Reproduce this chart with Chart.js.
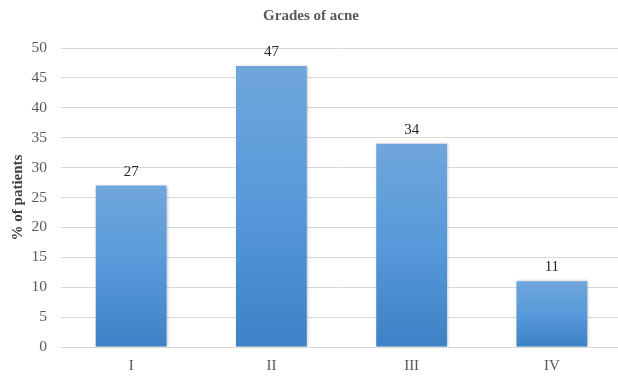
<!DOCTYPE html>
<html>
<head>
<meta charset="utf-8">
<script src="https://cdn.jsdelivr.net/npm/chart.js@4/dist/chart.umd.min.js"></script>
<style>
  html, body { margin: 0; padding: 0; background: #ffffff; overflow: hidden; }
  #wrap { width: 618px; height: 380px; overflow: hidden; }
  #chart { display: block; }
</style>
</head>
<body>
<div id="wrap"><canvas id="chart" width="622" height="380"></canvas></div>
<script>
// Acne grade categories and share of patients (%)
const grades = ['I', 'II', 'III', 'IV'];
const patientShare = [27, 47, 34, 11];
const yTicks = [0, 5, 10, 15, 20, 25, 30, 35, 40, 45, 50];
const chartTitle = 'Grades of acne';
const yTitle = '% of patients';

const serif = '"Liberation Serif", "Times New Roman", serif';

// Vertical gradient for each bar, from its top down to the baseline
function barGradient(context) {
  const chart = context.chart;
  if (!chart.chartArea) return '#5b9bd5';
  const y = chart.scales.y;
  const top = y.getPixelForValue(context.raw);
  const base = y.getPixelForValue(0);
  const g = chart.ctx.createLinearGradient(0, top, 0, base);
  g.addColorStop(0, '#6fa6dc');
  g.addColorStop(0.5, '#5799da');
  g.addColorStop(1, '#3d82c6');
  return g;
}

// Soft shadow behind the bars
const barShadow = {
  id: 'barShadow',
  beforeDatasetsDraw(chart) {
    const ctx = chart.ctx;
    ctx.save();
    ctx.shadowColor = 'rgba(0,0,0,0.25)';
    ctx.shadowBlur = 3;
    ctx.shadowOffsetX = 1;
    ctx.shadowOffsetY = 0;
  },
  afterDatasetsDraw(chart) {
    chart.ctx.restore();
  }
};

// Value labels above each bar, plus chart and axis titles
const annotations = {
  id: 'annotations',
  afterDatasetsDraw(chart) {
    const ctx = chart.ctx;
    const meta = chart.getDatasetMeta(0);
    ctx.save();
    ctx.font = '15px ' + serif;
    ctx.fillStyle = '#262626';
    ctx.textAlign = 'center';
    ctx.textBaseline = 'alphabetic';
    meta.data.forEach((bar, i) => {
      ctx.fillText(String(chart.data.datasets[0].data[i]), bar.x, bar.y - 10);
    });

    // chart title
    ctx.font = 'bold 15px ' + serif;
    ctx.fillStyle = '#595959';
    ctx.textBaseline = 'middle';
    ctx.fillText(chartTitle, 311, 16);

    // y axis title
    ctx.translate(18, (chart.chartArea.top + chart.chartArea.bottom) / 2);
    ctx.rotate(-Math.PI / 2);
    ctx.fillStyle = '#404040';
    ctx.fillText(yTitle, 0, 0);
    ctx.restore();
  }
};

new Chart(document.getElementById('chart'), {
  type: 'bar',
  data: {
    labels: grades,
    datasets: [{
      data: patientShare,
      backgroundColor: barGradient,
      borderWidth: 0,
      categoryPercentage: 1.0,
      barPercentage: 0.505
    }]
  },
  options: {
    responsive: false,
    animation: false,
    devicePixelRatio: 1,
    layout: { padding: { left: 0, right: 0, top: 48, bottom: 0 } },
    plugins: {
      legend: { display: false },
      tooltip: { enabled: false },
      title: { display: false }
    },
    scales: {
      x: {
        afterFit(axis) { axis.height = 33; },
        grid: { display: false, drawTicks: false },
        border: { display: true, color: '#d9d9d9', width: 1 },
        ticks: {
          color: '#595959',
          font: { family: serif, size: 15 },
          padding: 10
        }
      },
      y: {
        min: 0,
        max: 50,
        afterFit(axis) { axis.width = 61; },
        afterBuildTicks(axis) {
          axis.ticks = yTicks.map(v => ({ value: v }));
        },
        grid: { color: '#d9d9d9', lineWidth: 1, drawTicks: false },
        border: { display: false },
        ticks: {
          color: '#595959',
          font: { family: serif, size: 15.5 },
          padding: 14
        }
      }
    }
  },
  plugins: [barShadow, annotations]
});
</script>
</body>
</html>
